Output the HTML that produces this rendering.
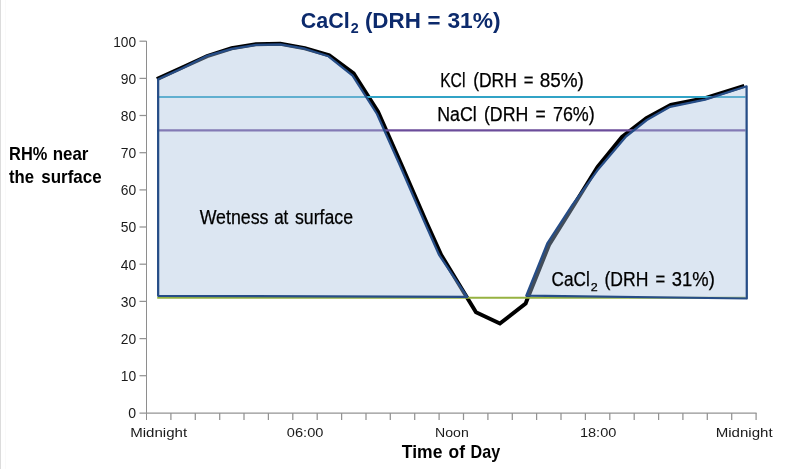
<!DOCTYPE html>
<html><head><meta charset="utf-8"><title>chart</title>
<style>
html,body{margin:0;padding:0;background:#fff;}
body{width:800px;height:469px;overflow:hidden;font-family:"Liberation Sans",sans-serif;}
svg{display:block;will-change:transform;}
text{font-family:"Liberation Sans",sans-serif;}
</style></head><body>
<svg width="800" height="469" viewBox="0 0 800 469">
<rect x="0" y="0" width="800" height="469" fill="#ffffff"/>
<rect x="0" y="0" width="1" height="469" fill="#dcdcdc"/>
<rect x="5" y="0" width="1" height="469" fill="#fafafa"/>

<g stroke="#8e8e8e" stroke-width="1" fill="none" shape-rendering="crispEdges">
<line x1="146.5" y1="40.7" x2="146.5" y2="420.0"/>
</g>
<g stroke="#939393" stroke-width="1.25" fill="none">
<line x1="139.5" y1="413.0" x2="756.6" y2="413.0"/>
<line x1="139.5" y1="375.7" x2="146.5" y2="375.7"/>
<line x1="139.5" y1="338.6" x2="146.5" y2="338.6"/>
<line x1="139.5" y1="301.4" x2="146.5" y2="301.4"/>
<line x1="139.5" y1="264.2" x2="146.5" y2="264.2"/>
<line x1="139.5" y1="227.0" x2="146.5" y2="227.0"/>
<line x1="139.5" y1="189.9" x2="146.5" y2="189.9"/>
<line x1="139.5" y1="152.7" x2="146.5" y2="152.7"/>
<line x1="139.5" y1="115.5" x2="146.5" y2="115.5"/>
<line x1="139.5" y1="78.4" x2="146.5" y2="78.4"/>
<line x1="139.5" y1="41.2" x2="146.5" y2="41.2"/>
<line x1="170.9" y1="413.0" x2="170.9" y2="420.0"/>
<line x1="195.3" y1="413.0" x2="195.3" y2="420.0"/>
<line x1="219.7" y1="413.0" x2="219.7" y2="420.0"/>
<line x1="244.0" y1="413.0" x2="244.0" y2="420.0"/>
<line x1="268.4" y1="413.0" x2="268.4" y2="420.0"/>
<line x1="292.8" y1="413.0" x2="292.8" y2="420.0"/>
<line x1="317.2" y1="413.0" x2="317.2" y2="420.0"/>
<line x1="341.6" y1="413.0" x2="341.6" y2="420.0"/>
<line x1="366.0" y1="413.0" x2="366.0" y2="420.0"/>
<line x1="390.3" y1="413.0" x2="390.3" y2="420.0"/>
<line x1="414.7" y1="413.0" x2="414.7" y2="420.0"/>
<line x1="439.1" y1="413.0" x2="439.1" y2="420.0"/>
<line x1="463.5" y1="413.0" x2="463.5" y2="420.0"/>
<line x1="487.9" y1="413.0" x2="487.9" y2="420.0"/>
<line x1="512.3" y1="413.0" x2="512.3" y2="420.0"/>
<line x1="536.6" y1="413.0" x2="536.6" y2="420.0"/>
<line x1="561.0" y1="413.0" x2="561.0" y2="420.0"/>
<line x1="585.4" y1="413.0" x2="585.4" y2="420.0"/>
<line x1="609.8" y1="413.0" x2="609.8" y2="420.0"/>
<line x1="634.2" y1="413.0" x2="634.2" y2="420.0"/>
<line x1="658.6" y1="413.0" x2="658.6" y2="420.0"/>
<line x1="682.9" y1="413.0" x2="682.9" y2="420.0"/>
<line x1="707.3" y1="413.0" x2="707.3" y2="420.0"/>
<line x1="731.7" y1="413.0" x2="731.7" y2="420.0"/>
<line x1="756.1" y1="413.0" x2="756.1" y2="420.0"/>
</g>
<polyline points="156.9,79.1 182.8,67.2 207.2,56.1 231.6,48.3 256.0,44.2 280.4,43.8 304.8,48.3 329.2,55.3 353.6,73.5 378.0,111.8 402.1,166.2 426.5,222.5 441.2,255.0 466.4,296.5 476.0,312.2 499.9,323.5 525.6,303.6 528.1,297.0 549.0,245.0 573.2,206.2 597.6,166.8 622.0,137.0 646.4,118.1 670.8,105.0 706.0,98.0 744.3,85.8" fill="none" stroke="#000" stroke-width="4" stroke-linejoin="miter" stroke-linecap="butt"/>
<line x1="157.2" y1="97.0" x2="745.5" y2="97.0" stroke="#31a3c6" stroke-width="2"/>
<line x1="157.2" y1="130.4" x2="745.5" y2="130.4" stroke="#6b4c9a" stroke-width="2.2"/>
<line x1="157.2" y1="297.7" x2="745.5" y2="297.7" stroke="#96b241" stroke-width="2.1"/>
<polygon points="158.15,79.2 182.8,68.0 207.2,55.8 231.6,48.8 256,44.9 280.4,44.3 304.8,48.7 328.5,56.3 352.6,75.6 377,114 400.3,166.2 424.7,222.5 438.9,254.5 467.2,296.8 158.15,295.8" fill="rgba(168,192,222,0.4)" stroke="#264d87" stroke-width="2.25" stroke-linejoin="round"/>
<polygon points="526.3,295.7 547.5,243 572.4,204.8 597.2,170.6 626,136.5 646.8,120 670,106.8 705,99.6 746.6,86.3 746.8,298.5" fill="rgba(168,192,222,0.4)" stroke="#264d87" stroke-width="2.25" stroke-linejoin="round"/>
<text x="128.25" y="418.2" font-size="14.5" font-weight="normal" fill="#1a1a1a" textLength="7.84" lengthAdjust="spacingAndGlyphs">0</text>
<text x="120.75" y="381.0" font-size="14.5" font-weight="normal" fill="#1a1a1a" textLength="15.40" lengthAdjust="spacingAndGlyphs">10</text>
<text x="120.75" y="343.9" font-size="14.5" font-weight="normal" fill="#1a1a1a" textLength="15.40" lengthAdjust="spacingAndGlyphs">20</text>
<text x="120.75" y="306.7" font-size="14.5" font-weight="normal" fill="#1a1a1a" textLength="15.40" lengthAdjust="spacingAndGlyphs">30</text>
<text x="120.75" y="269.5" font-size="14.5" font-weight="normal" fill="#1a1a1a" textLength="15.40" lengthAdjust="spacingAndGlyphs">40</text>
<text x="120.75" y="232.3" font-size="14.5" font-weight="normal" fill="#1a1a1a" textLength="15.40" lengthAdjust="spacingAndGlyphs">50</text>
<text x="120.75" y="195.2" font-size="14.5" font-weight="normal" fill="#1a1a1a" textLength="15.40" lengthAdjust="spacingAndGlyphs">60</text>
<text x="120.75" y="158.0" font-size="14.5" font-weight="normal" fill="#1a1a1a" textLength="15.40" lengthAdjust="spacingAndGlyphs">70</text>
<text x="120.75" y="120.8" font-size="14.5" font-weight="normal" fill="#1a1a1a" textLength="15.40" lengthAdjust="spacingAndGlyphs">80</text>
<text x="120.75" y="83.7" font-size="14.5" font-weight="normal" fill="#1a1a1a" textLength="15.40" lengthAdjust="spacingAndGlyphs">90</text>
<text x="113.25" y="46.5" font-size="14.5" font-weight="normal" fill="#1a1a1a" textLength="22.85" lengthAdjust="spacingAndGlyphs">100</text>
<text x="130.15" y="436.7" font-size="13.7" font-weight="normal" fill="#1a1a1a" textLength="56.97" lengthAdjust="spacingAndGlyphs">Midnight</text>
<text x="286.85" y="436.7" font-size="13.7" font-weight="normal" fill="#1a1a1a" textLength="36.53" lengthAdjust="spacingAndGlyphs">06:00</text>
<text x="435.05" y="436.7" font-size="13.7" font-weight="normal" fill="#1a1a1a" textLength="33.69" lengthAdjust="spacingAndGlyphs">Noon</text>
<text x="579.95" y="436.7" font-size="13.7" font-weight="normal" fill="#1a1a1a" textLength="36.43" lengthAdjust="spacingAndGlyphs">18:00</text>
<text x="715.65" y="436.7" font-size="13.7" font-weight="normal" fill="#1a1a1a" textLength="56.97" lengthAdjust="spacingAndGlyphs">Midnight</text>
<text x="401.85" y="458.2" font-size="17.8" font-weight="bold" fill="#000" textLength="40.58" lengthAdjust="spacingAndGlyphs">Time</text>
<text x="448.55" y="458.2" font-size="17.8" font-weight="bold" fill="#000" textLength="16.43" lengthAdjust="spacingAndGlyphs">of</text>
<text x="470.55" y="458.2" font-size="17.8" font-weight="bold" fill="#000" textLength="29.54" lengthAdjust="spacingAndGlyphs">Day</text>
<text x="9.05" y="159.5" font-size="17.8" font-weight="bold" fill="#000" textLength="38.24" lengthAdjust="spacingAndGlyphs">RH%</text>
<text x="52.65" y="159.5" font-size="17.8" font-weight="bold" fill="#000" textLength="35.79" lengthAdjust="spacingAndGlyphs">near</text>
<text x="9.05" y="182.8" font-size="17.8" font-weight="bold" fill="#000" textLength="25.05" lengthAdjust="spacingAndGlyphs">the</text>
<text x="41.25" y="182.8" font-size="17.8" font-weight="bold" fill="#000" textLength="60.37" lengthAdjust="spacingAndGlyphs">surface</text>
<text x="300.85" y="28.3" font-size="22.4" font-weight="bold" fill="#0c2a6c" textLength="48.98" lengthAdjust="spacingAndGlyphs">CaCl</text>
<text x="350.65" y="33.2" font-size="14" font-weight="bold" fill="#0c2a6c" textLength="7.94" lengthAdjust="spacingAndGlyphs">2</text>
<text x="364.90" y="28.3" font-size="22.4" font-weight="bold" fill="#0c2a6c" textLength="55.90" lengthAdjust="spacingAndGlyphs">(DRH</text>
<text x="427.55" y="28.3" font-size="22.4" font-weight="bold" fill="#0c2a6c" textLength="12.99" lengthAdjust="spacingAndGlyphs">=</text>
<text x="447.40" y="28.3" font-size="22.4" font-weight="bold" fill="#0c2a6c" textLength="53.18" lengthAdjust="spacingAndGlyphs">31%)</text>
<text x="440.15" y="86.8" font-size="19.5" font-weight="normal" fill="#000" stroke="#000" stroke-width="0.25" textLength="25.24" lengthAdjust="spacingAndGlyphs">KCl</text>
<text x="473.15" y="86.8" font-size="19.5" font-weight="normal" fill="#000" stroke="#000" stroke-width="0.25" textLength="43.69" lengthAdjust="spacingAndGlyphs">(DRH</text>
<text x="523.65" y="86.8" font-size="19.5" font-weight="normal" fill="#000" stroke="#000" stroke-width="0.25" textLength="9.71" lengthAdjust="spacingAndGlyphs">=</text>
<text x="539.65" y="86.8" font-size="19.5" font-weight="normal" fill="#000" stroke="#000" stroke-width="0.25" textLength="44.22" lengthAdjust="spacingAndGlyphs">85%)</text>
<text x="437.25" y="121.0" font-size="19.5" font-weight="normal" fill="#000" stroke="#000" stroke-width="0.25" textLength="39.47" lengthAdjust="spacingAndGlyphs">NaCl</text>
<text x="483.95" y="121.0" font-size="19.5" font-weight="normal" fill="#000" stroke="#000" stroke-width="0.25" textLength="44.39" lengthAdjust="spacingAndGlyphs">(DRH</text>
<text x="535.55" y="121.0" font-size="19.5" font-weight="normal" fill="#000" stroke="#000" stroke-width="0.25" textLength="10.21" lengthAdjust="spacingAndGlyphs">=</text>
<text x="552.95" y="121.0" font-size="19.5" font-weight="normal" fill="#000" stroke="#000" stroke-width="0.25" textLength="41.82" lengthAdjust="spacingAndGlyphs">76%)</text>
<text x="199.65" y="224.2" font-size="19.5" font-weight="normal" fill="#000" stroke="#000" stroke-width="0.25" textLength="68.81" lengthAdjust="spacingAndGlyphs">Wetness</text>
<text x="274.15" y="224.2" font-size="19.5" font-weight="normal" fill="#000" stroke="#000" stroke-width="0.25" textLength="14.21" lengthAdjust="spacingAndGlyphs">at</text>
<text x="294.95" y="224.2" font-size="19.5" font-weight="normal" fill="#000" stroke="#000" stroke-width="0.25" textLength="58.05" lengthAdjust="spacingAndGlyphs">surface</text>
<text x="551.55" y="286.4" font-size="19.5" font-weight="normal" fill="#000" stroke="#000" stroke-width="0.25" textLength="38.17" lengthAdjust="spacingAndGlyphs">CaCl</text>
<text x="590.65" y="290.5" font-size="11.2" font-weight="normal" fill="#000" stroke="#000" stroke-width="0.25" textLength="6.96" lengthAdjust="spacingAndGlyphs">2</text>
<text x="604.40" y="286.4" font-size="19.5" font-weight="normal" fill="#000" stroke="#000" stroke-width="0.25" textLength="43.94" lengthAdjust="spacingAndGlyphs">(DRH</text>
<text x="655.55" y="286.4" font-size="19.5" font-weight="normal" fill="#000" stroke="#000" stroke-width="0.25" textLength="9.71" lengthAdjust="spacingAndGlyphs">=</text>
<text x="671.85" y="286.4" font-size="19.5" font-weight="normal" fill="#000" stroke="#000" stroke-width="0.25" textLength="42.92" lengthAdjust="spacingAndGlyphs">31%)</text>
</svg></body></html>
